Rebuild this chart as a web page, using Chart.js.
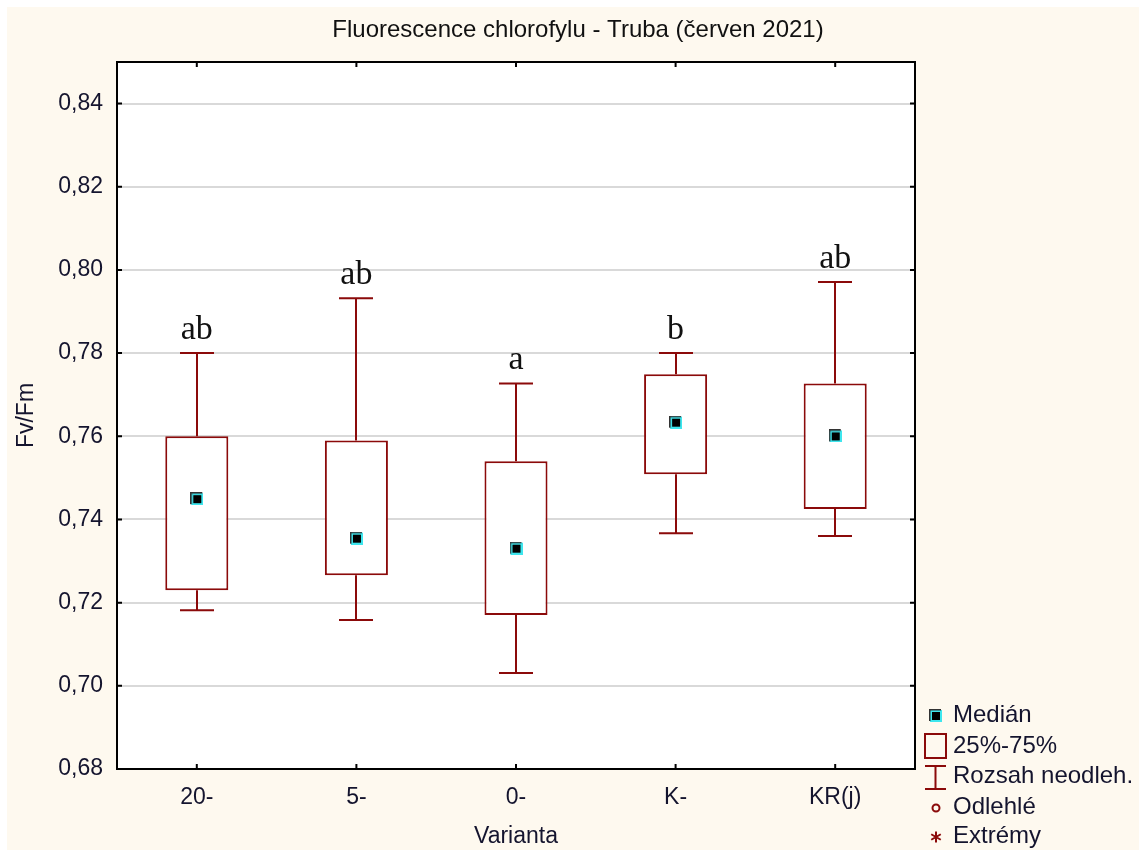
<!DOCTYPE html>
<html>
<head>
<meta charset="utf-8">
<script src="https://cdn.jsdelivr.net/npm/chart.js@4.4.0/dist/chart.umd.min.js"></script>
<style>
  body { margin: 0; background: #ffffff; }
  #wrap { width: 1139px; height: 850px; }
</style>
</head>
<body>
<div id="wrap"><canvas id="boxChart"></canvas></div>
<script>
// data
const categories = ["20-", "5-", "0-", "K-", "KR(j)"];
const medians = [0.7450, 0.7355, 0.7331, 0.7634, 0.7601];
const q1 = [0.7230, 0.7266, 0.7170, 0.7509, 0.7425];
const q3 = [0.7600, 0.7590, 0.7540, 0.7749, 0.7727];
const whiskerMin = [0.7182, 0.7158, 0.7031, 0.7367, 0.7360];
const whiskerMax = [0.7800, 0.7932, 0.7727, 0.7800, 0.7971];
const letters = ["ab", "ab", "a", "b", "ab"];
const legendItems = ["Medián", "25%-75%", "Rozsah neodleh.", "Odlehlé", "Extrémy"];

const boxColor = "#8b0a0a";
const textColor = "#14142e";
const sansFont = "'Liberation Sans', Arial, sans-serif";

// median marker (black square with cyan rim)
function makeMarker() {
  const c = document.createElement("canvas");
  c.width = 13;
  c.height = 13;
  const g = c.getContext("2d");
  g.fillStyle = "#3ee6ee";
  g.fillRect(1, 1, 12, 12);
  g.fillStyle = "#333333";
  g.fillRect(0, 0, 12, 1.5);
  g.fillRect(0, 0, 1.5, 12);
  g.fillStyle = "#000000";
  g.fillRect(3, 3, 8, 8);
  return c;
}
const marker = makeMarker();

const fmt = (v) => v.toFixed(2).replace(".", ",");

// background, whiskers, frame, letters, legend
const decorPlugin = {
  id: "decor",
  beforeDraw(chart) {
    const { ctx, chartArea: a } = chart;
    ctx.save();
    ctx.fillStyle = "#ffffff";
    ctx.fillRect(0, 0, chart.width, chart.height);
    ctx.fillStyle = "#fef9ef";
    ctx.fillRect(7, 7, chart.width - 7, chart.height - 7);
    ctx.fillStyle = "#ffffff";
    ctx.fillRect(a.left, a.top, a.right - a.left, a.bottom - a.top);
    ctx.restore();
  },
  beforeDatasetsDraw(chart) {
    const { ctx, scales } = chart;
    const x = scales.x, y = scales.y;
    ctx.save();
    ctx.strokeStyle = boxColor;
    ctx.lineWidth = 2;
    categories.forEach((c, i) => {
      const cx = Math.round(x.getPixelForValue(i));
      const yTop = y.getPixelForValue(whiskerMax[i]);
      const yBot = y.getPixelForValue(whiskerMin[i]);
      ctx.beginPath();
      ctx.moveTo(cx, yTop);
      ctx.lineTo(cx, y.getPixelForValue(q3[i]));
      ctx.moveTo(cx, yBot);
      ctx.lineTo(cx, y.getPixelForValue(q1[i]));
      ctx.moveTo(cx - 17, yTop);
      ctx.lineTo(cx + 17, yTop);
      ctx.moveTo(cx - 17, yBot);
      ctx.lineTo(cx + 17, yBot);
      ctx.stroke();
    });
    ctx.restore();
  },
  afterDraw(chart) {
    const { ctx, chartArea: a, scales } = chart;
    const x = scales.x, y = scales.y;
    ctx.save();

    // frame and inward ticks
    ctx.strokeStyle = "#000000";
    ctx.lineWidth = 2;
    ctx.strokeRect(a.left, a.top, a.right - a.left, a.bottom - a.top);
    ctx.beginPath();
    y.ticks.forEach((t) => {
      const py = y.getPixelForValue(t.value);
      ctx.moveTo(a.left, py);
      ctx.lineTo(a.left + 5, py);
      ctx.moveTo(a.right, py);
      ctx.lineTo(a.right - 5, py);
    });
    categories.forEach((c, i) => {
      const px = x.getPixelForValue(i);
      ctx.moveTo(px, a.top);
      ctx.lineTo(px, a.top + 5);
      ctx.moveTo(px, a.bottom);
      ctx.lineTo(px, a.bottom - 5);
    });
    ctx.stroke();

    // title
    ctx.fillStyle = "#111111";
    ctx.font = "24px " + sansFont;
    ctx.textAlign = "center";
    ctx.textBaseline = "middle";
    ctx.fillText("Fluorescence chlorofylu - Truba (červen 2021)", 578, 30);

    // significance letters
    ctx.font = "34px 'Liberation Serif', 'Times New Roman', serif";
    ctx.textBaseline = "alphabetic";
    ctx.fillStyle = "#111111";
    categories.forEach((c, i) => {
      const px = x.getPixelForValue(i);
      ctx.fillText(letters[i], px, y.getPixelForValue(whiskerMax[i]) - 14);
    });

    // legend
    const lx = a.right + 9;
    const rows = [715, 746, 776, 807, 836];
    ctx.font = "24px " + sansFont;
    ctx.textAlign = "left";
    ctx.textBaseline = "middle";
    ctx.fillStyle = textColor;
    legendItems.forEach((t, i) => ctx.fillText(t, lx + 29, rows[i]));

    ctx.drawImage(marker, lx + 5, rows[0] - 6);
    ctx.strokeStyle = boxColor;
    ctx.lineWidth = 2;
    ctx.strokeRect(lx + 1, rows[1] - 12, 21, 24);
    ctx.beginPath();
    ctx.moveTo(lx + 1, rows[2] - 10);
    ctx.lineTo(lx + 22, rows[2] - 10);
    ctx.moveTo(lx + 11.5, rows[2] - 10);
    ctx.lineTo(lx + 11.5, rows[2] + 13);
    ctx.moveTo(lx + 1, rows[2] + 13);
    ctx.lineTo(lx + 22, rows[2] + 13);
    ctx.stroke();
    ctx.beginPath();
    ctx.arc(lx + 12, rows[3] + 1, 3.5, 0, Math.PI * 2);
    ctx.stroke();
    ctx.beginPath();
    const sx = lx + 12, sy = rows[4] + 1;
    for (let k = 0; k < 3; k++) {
      const ang = Math.PI / 2 + (k * Math.PI) / 3;
      ctx.moveTo(sx - 5.5 * Math.cos(ang), sy - 5.5 * Math.sin(ang));
      ctx.lineTo(sx + 5.5 * Math.cos(ang), sy + 5.5 * Math.sin(ang));
    }
    ctx.stroke();

    ctx.restore();
  },
};

const boxData = q1.map((v, i) => [v, q3[i]]);

new Chart(document.getElementById("boxChart"), {
  data: {
    labels: categories,
    datasets: [
      {
        type: "line",
        data: medians,
        showLine: false,
        pointStyle: marker,
        pointRadius: 6,
        order: 1,
      },
      {
        type: "bar",
        data: boxData,
        backgroundColor: "#ffffff",
        borderColor: boxColor,
        borderWidth: 2,
        borderSkipped: false,
        categoryPercentage: 1,
        barPercentage: 0.395,
        order: 2,
      },
    ],
  },
  options: {
    responsive: true,
    maintainAspectRatio: false,
    animation: false,
    events: [],
    layout: { padding: { left: 0, right: 224, top: 62, bottom: 0 } },
    plugins: {
      legend: { display: false },
      tooltip: { enabled: false },
      title: { display: false },
    },
    scales: {
      x: {
        type: "category",
        grid: { display: false, drawTicks: false },
        border: { display: false },
        ticks: {
          color: textColor,
          padding: 15,
          font: { family: sansFont, size: 23 },
        },
        title: {
          display: true,
          text: "Varianta",
          color: textColor,
          font: { family: sansFont, size: 23 },
          padding: { top: 0, bottom: 0 },
        },
        afterFit: (s) => { s.height = 81; },
      },
      y: {
        min: 0.68,
        max: 0.85,
        grid: { color: "#d9d9d9", lineWidth: 2, drawTicks: false },
        border: { display: false },
        ticks: {
          stepSize: 0.02,
          includeBounds: false,
          color: textColor,
          padding: 14,
          font: { family: sansFont, size: 23 },
          callback: (v) => fmt(v),
        },
        afterBuildTicks: (s) => {
          s.ticks = s.ticks.filter((t) => t.value <= 0.8401);
        },
        title: {
          display: true,
          text: "Fv/Fm",
          color: textColor,
          font: { family: sansFont, size: 23 },
          padding: { top: 13, bottom: 0 },
        },
        afterFit: (s) => { s.width = 117; },
      },
    },
  },
  plugins: [decorPlugin],
});
</script>
</body>
</html>
